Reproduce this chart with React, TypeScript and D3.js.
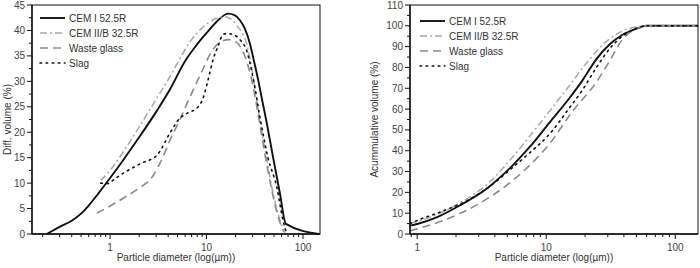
import React from "react";
import * as d3 from "d3";

// ---------- data ----------
const seriesNames = ["CEM I 52.5R", "CEM II/B 32.5R", "Waste glass", "Slag"];

// Left: differential volume (%)
const diffCem1: [number, number][] = [
  [0.22, 0], [0.3, 1.4], [0.4, 2.6], [0.5, 4.0], [0.6, 5.6], [0.75, 7.9], [1.0, 11],
  [1.4, 14.8], [2, 19], [3, 24], [4.2, 28.5], [6, 34], [8, 37.3], [10.9, 40.3], [13.5, 42.2],
  [16.7, 43.3], [19.5, 43], [22.2, 42], [25, 40.3], [28, 37.6], [31, 34], [34, 30.6], [38, 26],
  [42.3, 21.6], [49, 15], [57.6, 8], [66.5, 2], [146, 0],
];
const diffCem2: [number, number][] = [
  [0.8, 10.5], [1, 12.5], [1.5, 17.3], [2, 21], [3, 26.5], [4.2, 31], [5.3, 34.5], [6.75, 37.8],
  [9, 40.5], [12, 42.2], [15.5, 42.7], [18, 42.2], [20.7, 40.9], [26.2, 37.2], [30.4, 31],
  [35.9, 22], [42.3, 14.4], [49, 8], [57.6, 2.7], [65, 0.2],
];
const diffGlass: [number, number][] = [
  [0.73, 4.1], [1.0, 5.5], [1.5, 7.5], [2, 9], [2.8, 11.5], [3.5, 15], [4.19, 18.5], [5.3, 22.5],
  [6.4, 26], [8, 30], [9.5, 33], [11, 35.5], [13, 37.3], [15, 38], [17, 38.2], [20, 37.8],
  [23, 36.5], [26, 34], [30, 29.5], [35, 22.5], [40, 16], [47, 9], [55, 3.5], [63, 0.5],
];
const diffSlag: [number, number][] = [
  [0.8, 10], [0.93, 9.9], [1.13, 10.9], [1.36, 11.9], [2.05, 13.8], [3.07, 15.5], [4.19, 19.9],
  [5.3, 22.8], [6.4, 23.8], [8, 24.8], [9.2, 26.7], [10.1, 29.4], [10.9, 32], [11.7, 34.3],
  [13.1, 36.8], [14.8, 39.2], [16.3, 39.4], [18.8, 39.2], [22.2, 38.2], [26.2, 35.9],
  [30.4, 30.6], [35.9, 22.8], [43.3, 15], [53.5, 9.2], [62, 2.7], [68, 0],
];

// Right: cumulative volume (%)
const cumCem1: [number, number][] = [
  [0.88, 4], [1, 4.8], [1.43, 8.1], [2.15, 13.8], [3.47, 21.9], [5.5, 33], [7.45, 41.8],
  [10.6, 53.5], [15.1, 65.2], [19.1, 73.8], [24.5, 84], [30.9, 91], [39, 95.7], [50, 98.6],
  [59.5, 100], [150, 100],
];
const cumCem2: [number, number][] = [
  [0.88, 5], [1, 6], [1.5, 10], [2.15, 15], [3.5, 24], [5.5, 37], [7.45, 47], [10.6, 59],
  [15, 71], [21.7, 84], [30, 93], [39, 97.5], [50, 99.5], [60, 100], [150, 100],
];
const cumGlass: [number, number][] = [
  [0.88, 1.5], [1, 2.5], [1.59, 6.5], [2.9, 14], [5.5, 25.7], [7.45, 33], [10.6, 43.3],
  [16, 59], [24.5, 73], [30.9, 83], [39, 93.5], [50, 98.6], [60, 100], [150, 100],
];
const cumSlag: [number, number][] = [
  [0.88, 5], [1, 6.5], [1.5, 10.5], [2.43, 16], [3.5, 22], [5.5, 32], [7.45, 39], [10.6, 48],
  [15.1, 60.5], [19, 69], [24.5, 80], [31, 89], [39, 95], [50, 98.8], [60, 100], [150, 100],
];

const leftYTicks = [0, 5, 10, 15, 20, 25, 30, 35, 40, 45];
const rightYTicks = [0, 10, 20, 30, 40, 50, 60, 70, 80, 90, 100, 110];
const xTickLabels = [1, 10, 100];

const styles = [
  { stroke: "#111", dash: "", width: 1.9 },
  { stroke: "#a8a8a8", dash: "7,3,2,3", width: 1.5 },
  { stroke: "#8a8a8a", dash: "8,5", width: 1.6 },
  { stroke: "#111", dash: "1.6,4.5", width: 1.6 },
];

const FONT = "Liberation Sans, Arial, sans-serif";

type PanelProps = {
  x0: number; x1: number; y0: number; y1: number;
  xDomain: [number, number]; yMax: number;
  yTicks: number[]; yMinorStep: number;
  series: [number, number][][];
  yTitle: string; yTitleX: number;
  legendX: number; legendY: number;
};

function Panel(p: PanelProps) {
  const x = d3.scaleLog().domain(p.xDomain).range([p.x0, p.x1]);
  const y = d3.scaleLinear().domain([0, p.yMax]).range([p.y1, p.y0]);
  const line = d3
    .line<[number, number]>()
    .x((d) => x(d[0]))
    .y((d) => y(d[1]))
    .curve(d3.curveMonotoneX);

  const minorX: number[] = [];
  for (let dec = 0.1; dec <= 100; dec *= 10) {
    for (let k = 1; k <= 9; k++) {
      const v = +(dec * k).toPrecision(3);
      if (v >= p.xDomain[0] && v <= p.xDomain[1]) minorX.push(v);
    }
  }
  const minorY: number[] = [];
  for (let v = 0; v <= p.yMax + 1e-6; v += p.yMinorStep) minorY.push(v);

  return (
    <g>
      {p.series.map((s, i) => (
        <path
          key={i}
          d={line(s) || ""}
          fill="none"
          stroke={styles[i].stroke}
          strokeWidth={styles[i].width}
          strokeDasharray={styles[i].dash}
          strokeLinecap={i === 3 ? "round" : "butt"}
        />
      ))}
      <rect x={p.x0} y={p.y0} width={p.x1 - p.x0} height={p.y1 - p.y0} fill="none" stroke="#111" strokeWidth={1} />
      <line x1={p.x0} x2={p.x1} y1={p.y1} y2={p.y1} stroke="#111" strokeWidth={1.6} />
      <line x1={p.x0} x2={p.x0} y1={p.y0} y2={p.y1} stroke="#111" strokeWidth={1.4} />
      {minorX.map((v) => (
        <line key={"mx" + v} x1={x(v)} x2={x(v)} y1={p.y1} y2={p.y1 + (xTickLabels.includes(v) ? 5 : 3)} stroke="#111" strokeWidth={1} />
      ))}
      {xTickLabels.map((v) => (
        <text key={"xl" + v} x={x(v)} y={p.y1 + 17} textAnchor="middle" fontSize={10} fill="#444" fontFamily={FONT}>
          {v}
        </text>
      ))}
      {minorY.map((v) => (
        <line key={"my" + v} x1={p.x0 - (p.yTicks.includes(v) ? 5 : 3)} x2={p.x0} y1={y(v)} y2={y(v)} stroke="#111" strokeWidth={1} />
      ))}
      {p.yTicks.map((v) => (
        <text key={"yl" + v} x={p.x0 - 7} y={y(v) + 3.5} textAnchor="end" fontSize={10} fill="#444" fontFamily={FONT}>
          {v}
        </text>
      ))}
      <text
        transform={`translate(${p.yTitleX},${(p.y0 + p.y1) / 2}) rotate(-90)`}
        textAnchor="middle" fontSize={10} fill="#333" fontFamily={FONT}
      >
        {p.yTitle}
      </text>
      <text x={(p.x0 + p.x1) / 2} y={261} textAnchor="middle" fontSize={10} fill="#333" fontFamily={FONT}>
        Particle diameter (log(µm))
      </text>
      {seriesNames.map((n, i) => (
        <g key={n} transform={`translate(${p.legendX},${p.legendY + i * 15})`}>
          <line x1={0} x2={25} y1={0} y2={0} stroke={styles[i].stroke} strokeWidth={styles[i].width}
            strokeDasharray={styles[i].dash} strokeLinecap={i === 3 ? "round" : "butt"} />
          <text x={29} y={3.5} fontSize={10} fill="#333" fontFamily={FONT}>{n}</text>
        </g>
      ))}
    </g>
  );
}

export default function App() {
  return (
    <svg width={700} height={268} style={{ position: "absolute", left: 0, top: 0, background: "#fff" }}>
      <rect width={700} height={268} fill="#fff" />
      <Panel
        x0={32} x1={320} y0={5} y1={234}
        xDomain={[0.155, 150]} yMax={45}
        yTicks={leftYTicks} yMinorStep={2.5}
        series={[diffCem1, diffCem2, diffGlass, diffSlag]}
        yTitle="Diff. volume (%)" yTitleX={11}
        legendX={40} legendY={18}
      />
      <Panel
        x0={410} x1={698} y0={5} y1={234}
        xDomain={[0.88, 150]} yMax={110}
        yTicks={rightYTicks} yMinorStep={5}
        series={[cumCem1, cumCem2, cumGlass, cumSlag]}
        yTitle="Acummulative volume (%)" yTitleX={378}
        legendX={420} legendY={21}
      />
    </svg>
  );
}
